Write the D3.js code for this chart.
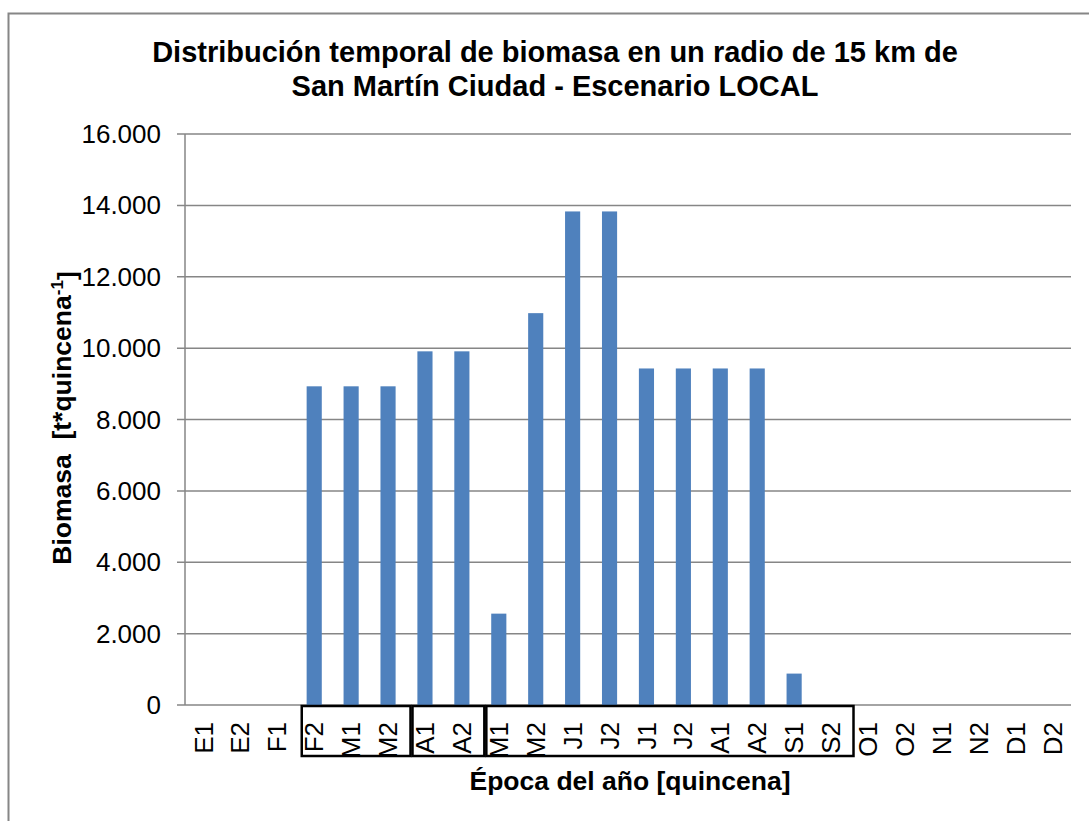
<!DOCTYPE html>
<html>
<head>
  <meta charset="utf-8">
  <title>Biomasa</title>
  <script src="https://cdn.jsdelivr.net/npm/d3@7/dist/d3.min.js"></script>
  <style>
    body { margin: 0; background: #fff; }
    text { font-family: Arial, "Liberation Sans", sans-serif; fill: #000; white-space: pre; }
  </style>
</head>
<body>
<script>
// quincenas del año
var quincenas = ["E1","E2","F1","F2","M1","M2","A1","A2","M1","M2","J1","J2",
                 "J1","J2","A1","A2","S1","S2","O1","O2","N1","N2","D1","D2"];
// biomasa [t/quincena]
var biomasa = [0, 0, 0, 8930, 8930, 8930, 9910, 9910, 2560, 10980, 13830, 13830,
               9430, 9430, 9430, 9430, 880, 0, 0, 0, 0, 0, 0, 0];
var yTicks = [0, 2000, 4000, 6000, 8000, 10000, 12000, 14000, 16000];
// grupos enmarcados (indice inicial, indice final)
var grupos = [[3, 5], [6, 7], [8, 17]];

var W = 1089, H = 821;
var svg = d3.select("body").append("svg").attr("width", W).attr("height", H);

// marco exterior
svg.append("rect")
   .attr("x", 8.5).attr("y", 13.5).attr("width", 1200).attr("height", 1000)
   .attr("fill", "none").attr("stroke", "#868686").attr("stroke-width", 2);

var izq = 185, der = 1071, arriba = 134, abajo = 705;

var data = quincenas.map(function(q, i) { return {i: i, q: q, v: biomasa[i]}; });

var x = d3.scaleBand().domain(d3.range(quincenas.length)).range([izq, der])
          .paddingInner(0.59).paddingOuter(0.295);
var xc = d3.scaleBand().domain(d3.range(quincenas.length)).range([izq, der]);
var y = d3.scaleLinear().domain([0, 16000]).range([abajo, arriba]);

var fmt = function(d) { return d3.format(",")(d).replace(/,/g, "."); };

// lineas de division
svg.append("g").selectAll("line").data(yTicks).enter().append("line")
   .attr("x1", izq - 8).attr("x2", der)
   .attr("y1", function(d) { return y(d); }).attr("y2", function(d) { return y(d); })
   .attr("stroke", "#868686").attr("stroke-width", 1.5);

// eje vertical
svg.append("line").attr("x1", izq).attr("x2", izq).attr("y1", arriba).attr("y2", abajo)
   .attr("stroke", "#868686").attr("stroke-width", 1.5);

svg.append("g").selectAll("text").data(yTicks).enter().append("text")
   .attr("x", 161).attr("y", function(d) { return y(d); }).attr("dy", "0.35em")
   .attr("text-anchor", "end").style("font-size", "26px")
   .text(fmt);

// barras
svg.append("g").selectAll("rect").data(data.filter(function(d) { return d.v > 0; }))
   .enter().append("rect")
   .attr("x", function(d) { return x(d.i); })
   .attr("width", x.bandwidth())
   .attr("y", function(d) { return y(d.v); })
   .attr("height", function(d) { return y(0) - y(d.v); })
   .attr("fill", "#4F81BD");

// etiquetas del eje x
svg.append("g").selectAll("text").data(data).enter().append("text")
   .attr("transform", function(d) {
     return "translate(" + (xc(d.i) + xc.bandwidth() / 2) + ",722) rotate(-90)"; })
   .attr("dy", "0.35em").attr("text-anchor", "end").style("font-size", "26px")
   .text(function(d) { return d.q; });

// marcos de grupos
svg.append("g").selectAll("rect").data(grupos).enter().append("rect")
   .attr("x", function(g) { return xc(g[0]) + 6; })
   .attr("y", abajo + 1)
   .attr("width", function(g) { return xc(g[1]) + xc.bandwidth() - xc(g[0]) - 2; })
   .attr("height", 50)
   .attr("fill", "none").attr("stroke", "#000").attr("stroke-width", 2.5);

// titulos
var title = svg.append("text").attr("text-anchor", "middle")
   .style("font-size", "29px").style("font-weight", "bold");
title.append("tspan").attr("x", 555).attr("y", 62)
   .text("Distribución temporal de biomasa en un radio de 15 km de");
title.append("tspan").attr("x", 555).attr("y", 96)
   .text("San Martín Ciudad - Escenario LOCAL");

svg.append("text").attr("x", 630).attr("y", 790).attr("text-anchor", "middle")
   .style("font-size", "26.5px").style("font-weight", "bold")
   .text("Época del año [quincena]");

var yt = svg.append("text").attr("transform", "translate(71,418) rotate(-90)")
   .attr("text-anchor", "middle").style("font-size", "26.5px").style("font-weight", "bold");
yt.append("tspan").text("Biomasa  [t*quincena");
yt.append("tspan").attr("dy", "-0.5em").style("font-size", "17px").text("-1");
yt.append("tspan").attr("dy", "0.5em").text("]");
</script>
</body>
</html>
